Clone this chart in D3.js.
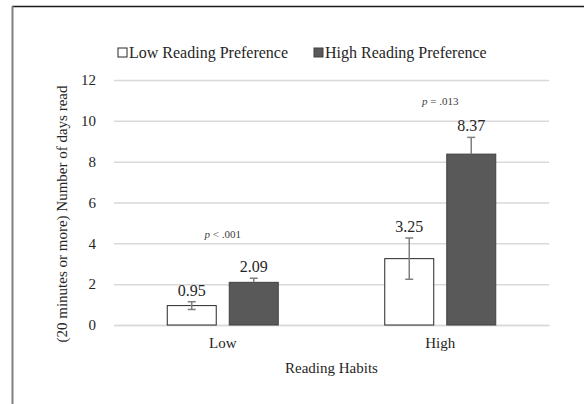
<!DOCTYPE html>
<html>
<head>
<meta charset="utf-8">
<script src="https://cdn.jsdelivr.net/npm/d3@7"></script>
<style>
  html, body { margin: 0; padding: 0; background: #fff; }
  svg { display: block; font-family: "Liberation Serif", "DejaVu Serif", serif; }
</style>
</head>
<body>
<svg id="chart" width="584" height="404"></svg>
<script>
// Reading habits (groups) and reading preference (series)
const habits = ["Low", "High"];
const series = ["Low Reading Preference", "High Reading Preference"];
const lowPrefMeans = [0.95, 3.25];
const highPrefMeans = [2.09, 8.37];
const lowPrefErrors = [0.19, 1.01];
const highPrefErrors = [0.20, 0.82];
const pLabels = ["< .001", "= .013"];
const pLabelLevels = [4.45, 10.95];
const yTicks = [0, 2, 4, 6, 8, 10, 12];

const rows = habits.map((h, i) => ({
  habit: h,
  values: [
    { key: series[0], mean: lowPrefMeans[i], err: lowPrefErrors[i], minus: true },
    { key: series[1], mean: highPrefMeans[i], err: highPrefErrors[i], minus: false }
  ]
}));

const svg = d3.select("#chart");
const plot = { left: 114, right: 549, top: 80, bottom: 325 };

const colour = d3.scaleOrdinal().domain(series).range(["#ffffff", "#595959"]);
const strokeColour = d3.scaleOrdinal().domain(series).range(["#262626", "#404040"]);

const x0 = d3.scaleBand().domain(habits).range([plot.left, plot.right]);
const groupW = 111;
const x1 = d3.scaleBand().domain(series)
  .range([(x0.bandwidth() - groupW) / 2, (x0.bandwidth() + groupW) / 2])
  .paddingInner(0.21);
const y = d3.scaleLinear().domain([0, 12]).range([plot.bottom, plot.top]);

// frame lines
svg.append("line").attr("x1", 12).attr("x2", 584).attr("y1", 6.5).attr("y2", 6.5)
  .attr("stroke", "#1a1a1a").attr("stroke-width", 1.5);
svg.append("line").attr("x1", 12.5).attr("x2", 12.5).attr("y1", 6).attr("y2", 404)
  .attr("stroke", "#808080").attr("stroke-width", 2);

// gridlines and y tick labels
const yAxis = d3.axisLeft(y).tickValues(yTicks).tickSize(-(plot.right - plot.left)).tickPadding(18)
  .tickFormat(d3.format("d"));
const yg = svg.append("g").attr("transform", `translate(${plot.left},0)`).call(yAxis);
yg.select(".domain").remove();
yg.selectAll(".tick line").attr("stroke", "#d9d9d9").attr("stroke-width", 1.5);
yg.selectAll(".tick text").attr("fill", "#262626").attr("font-size", 15)
  .attr("font-family", "Liberation Serif, serif");

// x axis labels
const xAxis = d3.axisBottom(x0).tickSize(0).tickPadding(12);
const xg = svg.append("g").attr("transform", `translate(0,${plot.bottom})`).call(xAxis);
xg.select(".domain").attr("stroke", "#d9d9d9").attr("stroke-width", 1.5);
xg.selectAll(".tick text").attr("fill", "#262626").attr("font-size", 15)
  .attr("font-family", "Liberation Serif, serif");

// bars
const groups = svg.selectAll(".grp").data(rows).join("g")
  .attr("class", "grp")
  .attr("transform", d => `translate(${x0(d.habit)},0)`);

groups.selectAll("rect").data(d => d.values).join("rect")
  .attr("x", d => x1(d.key))
  .attr("y", d => y(d.mean))
  .attr("width", x1.bandwidth())
  .attr("height", d => y(0) - y(d.mean))
  .attr("fill", d => colour(d.key))
  .attr("stroke", d => strokeColour(d.key))
  .attr("stroke-width", 1);

// error bars
const capW = 8;
groups.selectAll(".err").data(d => d.values).join("g").attr("class", "err")
  .each(function(d) {
    const g = d3.select(this);
    const cx = x1(d.key) + x1.bandwidth() / 2;
    const top = y(d.mean + d.err);
    const bottom = d.minus ? y(d.mean - d.err) : y(d.mean);
    g.append("line").attr("x1", cx).attr("x2", cx).attr("y1", top).attr("y2", bottom);
    g.append("line").attr("x1", cx - capW / 2).attr("x2", cx + capW / 2).attr("y1", top).attr("y2", top);
    if (d.minus) {
      g.append("line").attr("x1", cx - capW / 2).attr("x2", cx + capW / 2).attr("y1", bottom).attr("y2", bottom);
    }
    g.selectAll("line").attr("stroke", "#7f7f7f").attr("stroke-width", 1.5);
  });

// value labels
groups.selectAll(".val").data(d => d.values).join("text").attr("class", "val")
  .attr("x", d => x1(d.key) + x1.bandwidth() / 2)
  .attr("y", d => y(d.mean + d.err) - 6)
  .attr("text-anchor", "middle")
  .attr("font-size", 16)
  .attr("fill", "#262626")
  .text(d => d.mean.toFixed(2));

// p values above each group
groups.append("text")
  .attr("x", x0.bandwidth() / 2)
  .attr("y", (d, i) => y(pLabelLevels[i]) + 4)
  .attr("text-anchor", "middle")
  .attr("font-size", 11)
  .attr("fill", "#404040")
  .each(function(d, i) {
    const t = d3.select(this);
    t.append("tspan").attr("font-style", "italic").text("p");
    t.append("tspan").text(" " + pLabels[i]);
  });

// axis titles
svg.append("text")
  .attr("x", (plot.left + plot.right) / 2)
  .attr("y", 373)
  .attr("text-anchor", "middle")
  .attr("font-size", 15)
  .attr("fill", "#262626")
  .text("Reading Habits");

svg.append("text")
  .attr("transform", "translate(67,214) rotate(-90)")
  .attr("text-anchor", "middle")
  .attr("font-size", 15)
  .attr("fill", "#262626")
  .text("(20 minutes or more) Number of days read");

// legend
const legendX = [118, 314];
const legend = svg.selectAll(".leg").data(series).join("g").attr("class", "leg")
  .attr("transform", (d, i) => `translate(${legendX[i]},48)`);
legend.append("rect").attr("width", 9).attr("height", 9)
  .attr("fill", d => colour(d)).attr("stroke", d => strokeColour(d)).attr("stroke-width", 1);
legend.append("text").attr("x", 11).attr("y", 9.5)
  .attr("font-size", 16).attr("fill", "#262626")
  .text(d => d);
</script>
</body>
</html>
